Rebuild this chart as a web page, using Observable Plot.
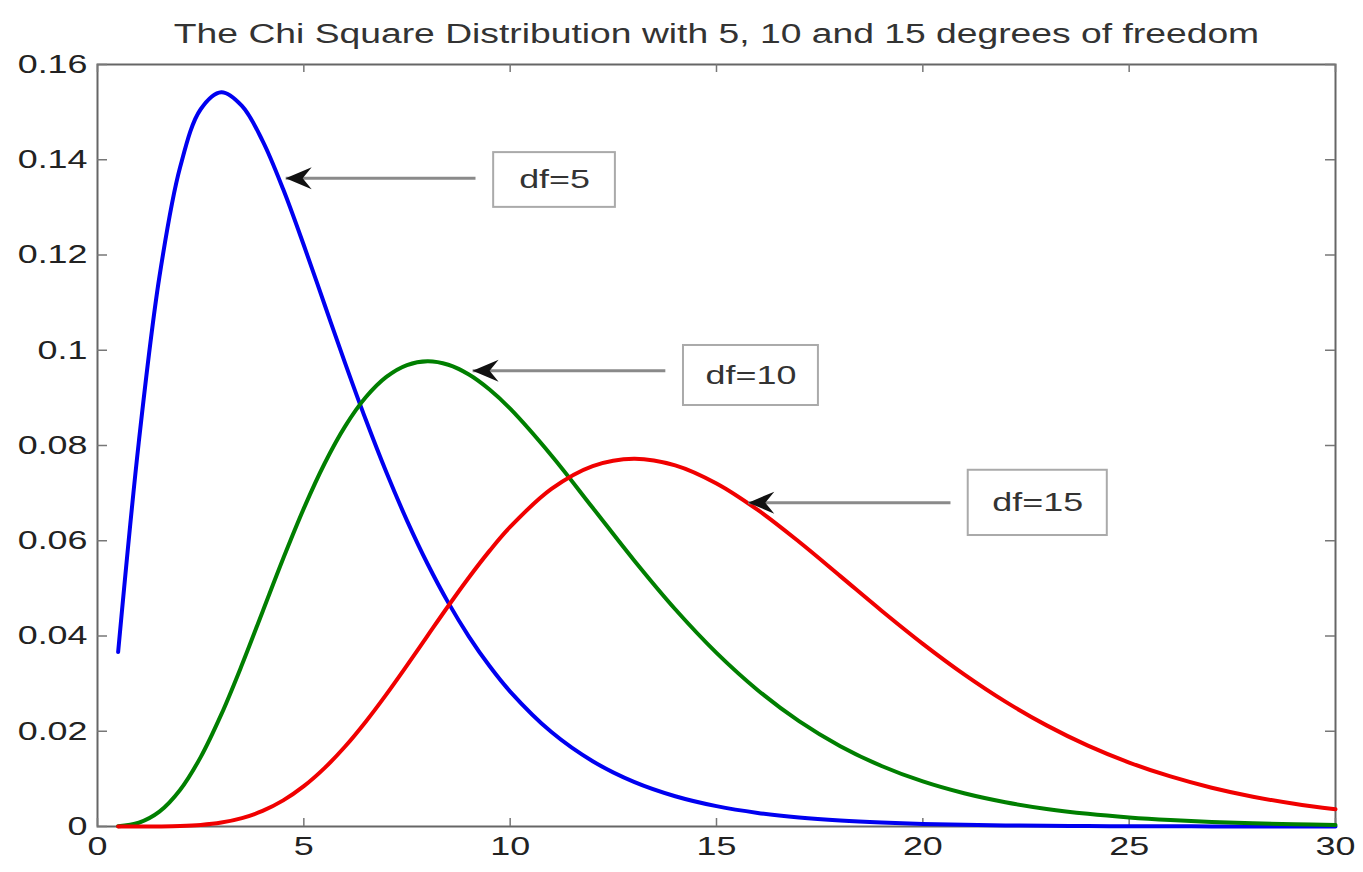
<!DOCTYPE html>
<html><head><meta charset="utf-8">
<script src="https://cdn.jsdelivr.net/npm/d3@7"></script>
<script src="https://cdn.jsdelivr.net/npm/@observablehq/plot@0.6"></script>
<style>body{margin:0;background:#fff;}#chart{width:1363px;height:872px;}</style>
</head><body><div id="chart"></div>
<script>
// ---- data ----
const titleText = "The Chi Square Distribution with 5, 10 and 15 degrees of freedom";
const xValues = [0.5,1,1.5,2,2.5,3,3.5,4,4.5,5,5.5,6,6.5,7,7.5,8,8.5,9,9.5,10,
  11,12,13,14,15,16,17,18,19,20,21,22,23,24,25,26,27,28,29,30];
const df5 = [0.036616,0.080657,0.115400,0.138369,0.150602,0.154180,0.151313,0.143976,0.133797,0.122042,
  0.109654,0.097305,0.085448,0.074371,0.064237,0.055113,0.047007,0.039887,0.033689,0.028335,
  0.019828,0.013704,0.009368,0.006353,0.004272,0.002855,0.001897,0.001253,0.000824,0.000540,
  0.000352,0.000229,0.000149,0.000096,0.000062,0.000040,0.000026,0.000016,0.000010,0.000007];
const df10 = [0.0000634,0.000790,0.003114,0.007664,0.014572,0.023533,0.033954,0.045112,0.056276,0.066801,
  0.076169,0.084016,0.090123,0.094405,0.096891,0.097685,0.096952,0.094904,0.091759,0.087734,
  0.077910,0.066927,0.055911,0.045613,0.036459,0.028626,0.022127,0.016869,0.012702,0.009458,
  0.006973,0.005094,0.003691,0.002654,0.001895,0.001345,0.000949,0.000666,0.000464,0.000323];
const df15 = [0.0000000,0.0000018,0.0000195,0.0000983,0.0003265,0.0008317,0.0017643,0.0032729,0.0054810,0.0084665,
  0.012252,0.016797,0.022010,0.027748,0.033841,0.040092,0.046303,0.052287,0.057871,0.062902,
  0.070888,0.075692,0.077243,0.075843,0.072032,0.066461,0.059780,0.052573,0.045315,0.038361,
  0.031950,0.026221,0.021232,0.016982,0.013430,0.010511,0.008148,0.006260,0.004769,0.003606];
const seriesNames = ["df=5","df=10","df=15"];
const seriesColors = ["#0000f0","#007f00","#f00000"];
const xTicks = [0,5,10,15,20,25,30];
const yTicks = [0,0.02,0.04,0.06,0.08,0.1,0.12,0.14,0.16];

// annotations
const annoLabels = ["df=5","df=10","df=15"];
const annoTipX = [4.56, 9.09, 15.77];
const annoTipY = [0.1361, 0.0957, 0.0680];
const annoLineEndX = [9.16, 13.76, 20.67];
const annoBoxX1 = [9.6, 14.2, 21.1];
const annoBoxX2 = [12.55, 17.47, 24.47];
const annoBoxY1 = [0.1300, 0.0884, 0.0611];
const annoBoxY2 = [0.1415, 0.1010, 0.0748];

// ---- build tables ----
const rows = [];
[df5, df10, df15].forEach((vals, i) => vals.forEach((v, j) => rows.push({x: xValues[j], y: v, s: seriesNames[i]})));
const annos = annoLabels.map((label, i) => ({
  label, tipX: annoTipX[i], tipY: annoTipY[i], endX: annoLineEndX[i],
  x1: annoBoxX1[i], x2: annoBoxX2[i], y1: annoBoxY1[i], y2: annoBoxY2[i],
  tx: (annoBoxX1[i] + annoBoxX2[i]) / 2, ty: (annoBoxY1[i] + annoBoxY2[i]) / 2
}));

const W = 1363, H = 872, mL = 97, mR = 28, mT = 64, mB = 46;
const frameH = H - mT - mB, frameW = W - mL - mR;
const tickLenX = 8, tickLenY = 10;

const arrowHead = {
  draw(ctx) {
    ctx.moveTo(0, 0);
    ctx.lineTo(26, -11);
    ctx.lineTo(17, 0);
    ctx.lineTo(26, 11);
    ctx.closePath();
  }
};

const chart = Plot.plot({
  width: W, height: H,
  marginLeft: mL, marginRight: mR, marginTop: mT, marginBottom: mB,
  x: {domain: [0, 30]},
  y: {domain: [0, 0.16]},
  color: {domain: seriesNames, range: seriesColors},
  style: {fontFamily: "'Liberation Sans', Arial, sans-serif", fontSize: "26px", color: "#222", background: "#fff"},
  marks: [
    Plot.frame({stroke: "#666", strokeWidth: 2}),
    Plot.ruleX(xTicks, {x: d => d, insetTop: frameH - tickLenX, stroke: "#777", strokeWidth: 1.5}),
    Plot.ruleX(xTicks, {x: d => d, insetBottom: frameH - tickLenX, stroke: "#777", strokeWidth: 1.5}),
    Plot.ruleY(yTicks, {y: d => d, insetRight: frameW - tickLenY, stroke: "#777", strokeWidth: 1.5}),
    Plot.ruleY(yTicks, {y: d => d, insetLeft: frameW - tickLenY, stroke: "#777", strokeWidth: 1.5}),
    Plot.axisX({ticks: xTicks, tickSize: 0, tickPadding: 10, tickFormat: d => String(d), label: null, fill: "#222"}),
    Plot.axisY({ticks: yTicks, tickSize: 0, tickPadding: 10, tickFormat: d => String(+d.toFixed(2)), label: null, fill: "#222"}),
    Plot.line(rows, {x: "x", y: "y", z: "s", stroke: "s", strokeWidth: 4, curve: "catmull-rom"}),
    Plot.link(annos, {x1: "tipX", y1: "tipY", x2: "endX", y2: "tipY", stroke: "#8a8a8a", strokeWidth: 3}),
    Plot.dot(annos, {x: "tipX", y: "tipY", symbol: arrowHead, fill: "#111", stroke: "none", r: 10}),
    Plot.rect(annos, {x1: "x1", x2: "x2", y1: "y1", y2: "y2", fill: "white", stroke: "#aaa", strokeWidth: 2}),
    Plot.text(annos, {x: "tx", y: "ty", text: "label", fontSize: 26, fill: "#333"}),
    Plot.text([titleText], {frameAnchor: "top", dy: -41, fontSize: 27, fill: "#333"})
  ]
});
document.getElementById("chart").appendChild(chart);

// the reference is horizontally stretched: widen the glyphs to match
const STRETCH = 1.38;
chart.querySelectorAll("text").forEach(t => {
  const w = t.getComputedTextLength();
  if (w > 0) {
    t.setAttribute("textLength", (w * STRETCH).toFixed(1));
    t.setAttribute("lengthAdjust", "spacingAndGlyphs");
  }
});
</script>
</body></html>
